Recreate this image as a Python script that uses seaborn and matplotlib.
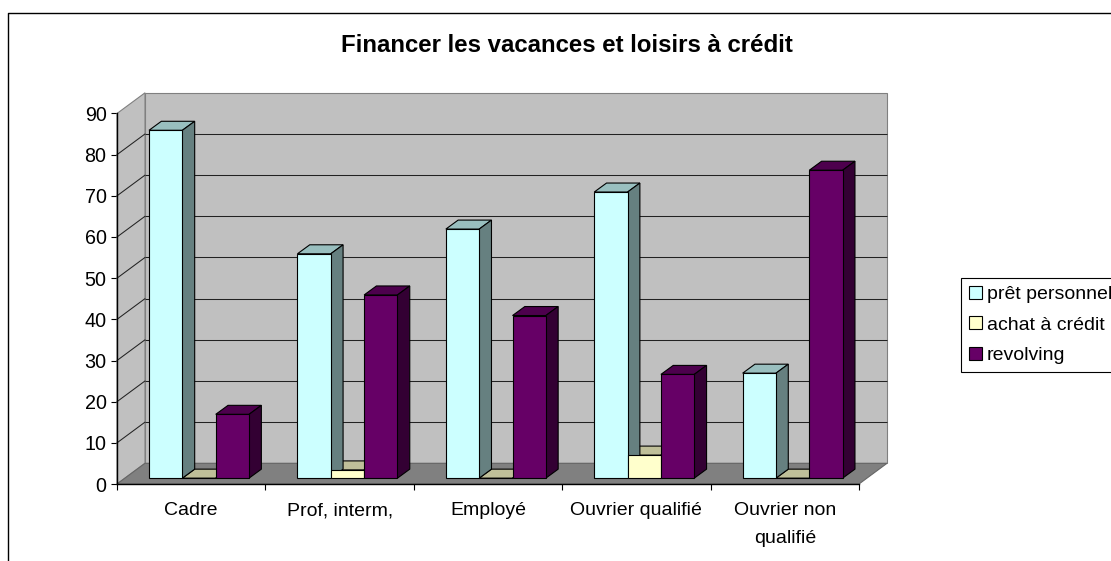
import matplotlib
matplotlib.use("Agg")
import matplotlib.pyplot as plt
import numpy as np
import pandas as pd
import seaborn as sns
from matplotlib.lines import Line2D
from matplotlib.patches import Polygon
from matplotlib.transforms import Affine2D, IdentityTransform

categories = ["Cadre", "Prof, interm,", "Employé", "Ouvrier qualifié", "Ouvrier non\nqualifié"]
series_names = ["prêt personnel", "achat à crédit", "revolving"]
pret = [84.5, 54.5, 60.5, 69.5, 25.5]
achat = [0, 2, 0, 5.6, 0]
revolving = [15.5, 44.5, 39.5, 25.2, 74.8]
y_ticks = [0, 10, 20, 30, 40, 50, 60, 70, 80, 90]
title = "Financer les vacances et loisirs à crédit"

front_colors = ["#CCFFFF", "#FFFFCC", "#660066"]
top_colors = ["#99BFBF", "#BFBF99", "#4D004D"]
side_colors = ["#668080", "#808066", "#330033"]

W, H = 1111, 561
sns.set_theme(style="white")
plt.rcParams["font.family"] = ["Liberation Sans", "DejaVu Sans"]
plt.rcParams["text.color"] = "black"

df = pd.DataFrame({
    "cat": categories * 3,
    "serie": np.repeat(series_names, len(categories)),
    "val": pret + achat + revolving,
})

fig = plt.figure(figsize=(W / 100, H / 100), dpi=100, facecolor="white")
ax = fig.add_axes([117 / W, 1 - 484 / H, 742 / W, 370.5 / H], facecolor="none")
sns.barplot(data=df, x="cat", y="val", hue="serie", palette=front_colors, hue_order=series_names,
            saturation=1, width=0.674, gap=0, edgecolor="black", linewidth=0.8, ax=ax, errorbar=None)
ax.set_xlim(-0.5, 4.5)
ax.set_ylim(0, 90)
ax.set_xlabel("")
ax.set_ylabel("")

DX, DY = 28, 20.7          # depth of the chart box, pixels
BX, BY = 12.3, 9.0         # depth of one bar, pixels
OX, OY = (DX - BX) / 2, (DY - BY) / 2


def shift(dx, dy):
    return ax.transData + Affine2D().translate(dx, dy)


def disp(x, y, dx=0.0, dy=0.0):
    p = ax.transData.transform((x, y))
    return (p[0] + dx, p[1] + dy)


def face(points, color, edge="black", z=1.0, lw=0.8):
    ax.add_patch(Polygon(points, closed=True, facecolor=color, edgecolor=edge, linewidth=lw,
                         transform=IdentityTransform(), zorder=z, clip_on=False))


# chart box: back wall, left wall, floor
xa, xb = -0.5, 4.5
face([disp(xa, 0, DX, DY), disp(xb, 0, DX, DY), disp(xb, 90, DX, DY), disp(xa, 90, DX, DY)],
     "#C0C0C0", edge="#808080", z=0.5)
face([disp(xa, 0), disp(xa, 0, DX, DY), disp(xa, 90, DX, DY), disp(xa, 90)],
     "#C0C0C0", edge="#808080", z=0.6)
face([disp(xa, 0), disp(xb, 0), disp(xb, 0, DX, DY), disp(xa, 0, DX, DY)],
     "#808080", edge="#666666", z=0.9)
for v in y_ticks[1:-1]:
    ax.plot([xa, xb], [v, v], color="#222222", lw=0.75, transform=shift(DX, DY), zorder=0.7,
            clip_on=False, solid_capstyle="butt")
    ax.add_line(Line2D(*zip(disp(xa, v), disp(xa, v, DX, DY)), color="#222222", lw=0.75,
                       transform=IdentityTransform(), zorder=0.7, clip_on=False))

# bars: front faces come from seaborn, depth faces are derived from them
for idx, container in enumerate(ax.containers):
    z = 3 if idx == 1 else 4
    for bar in container:
        x0, w, h = bar.get_x(), bar.get_width(), bar.get_height()
        bar.set_transform(shift(OX, OY))
        bar.set_clip_on(False)
        bar.set_zorder(5)
        face([disp(x0, h, OX, OY), disp(x0 + w, h, OX, OY),
              disp(x0 + w, h, OX + BX, OY + BY), disp(x0, h, OX + BX, OY + BY)],
             top_colors[idx], z=z)
        face([disp(x0 + w, 0, OX, OY), disp(x0 + w, 0, OX + BX, OY + BY),
              disp(x0 + w, h, OX + BX, OY + BY), disp(x0 + w, h, OX, OY)],
             side_colors[idx], z=z)

# axes
for s in ["top", "right"]:
    ax.spines[s].set_visible(False)
for s in ["left", "bottom"]:
    ax.spines[s].set_color("black")
    ax.spines[s].set_linewidth(1.0)
    ax.spines[s].set_zorder(6)
ax.set_yticks(y_ticks)
ax.tick_params(axis="y", which="major", left=True, length=4.3, width=0.8, color="black",
               labelsize=14.2, labelcolor="black", pad=3.2)
ax.set_xticks(range(len(categories)))
ax.set_xticklabels(categories)
ax.set_xticks(np.arange(-0.5, 5.0, 1.0), minor=True)
ax.tick_params(axis="x", which="major", bottom=False, labelsize=14.0, labelcolor="black", pad=7)
ax.tick_params(axis="x", which="minor", bottom=True, length=4.3, width=0.8, color="black")
for t in ax.get_xticklabels():
    t.set_linespacing(1.85)

fig.text(566.5 / W, 1 - 45.5 / H, title, ha="center", va="center", fontsize=17.3, fontweight="bold",
         color="black")

sns.move_legend(ax, "upper left", bbox_to_anchor=(961 / W, 1 - 278 / H), bbox_transform=fig.transFigure,
                title=None, frameon=True, fancybox=False, edgecolor="black", framealpha=1,
                borderaxespad=0, fontsize=14.0, handlelength=0.67, handleheight=0.67, handletextpad=0.26,
                labelspacing=0.67, borderpad=0.4)
ax.get_legend().get_frame().set_linewidth(0.8)
ax.get_legend().set_zorder(10)

# chart-area frame, running off the canvas on the right and at the bottom
fig.add_artist(Line2D([8 / W, 8 / W, 1], [0, 1 - 13 / H, 1 - 13 / H], color="black", lw=1.0))

fig.savefig("out.png", dpi=100)
